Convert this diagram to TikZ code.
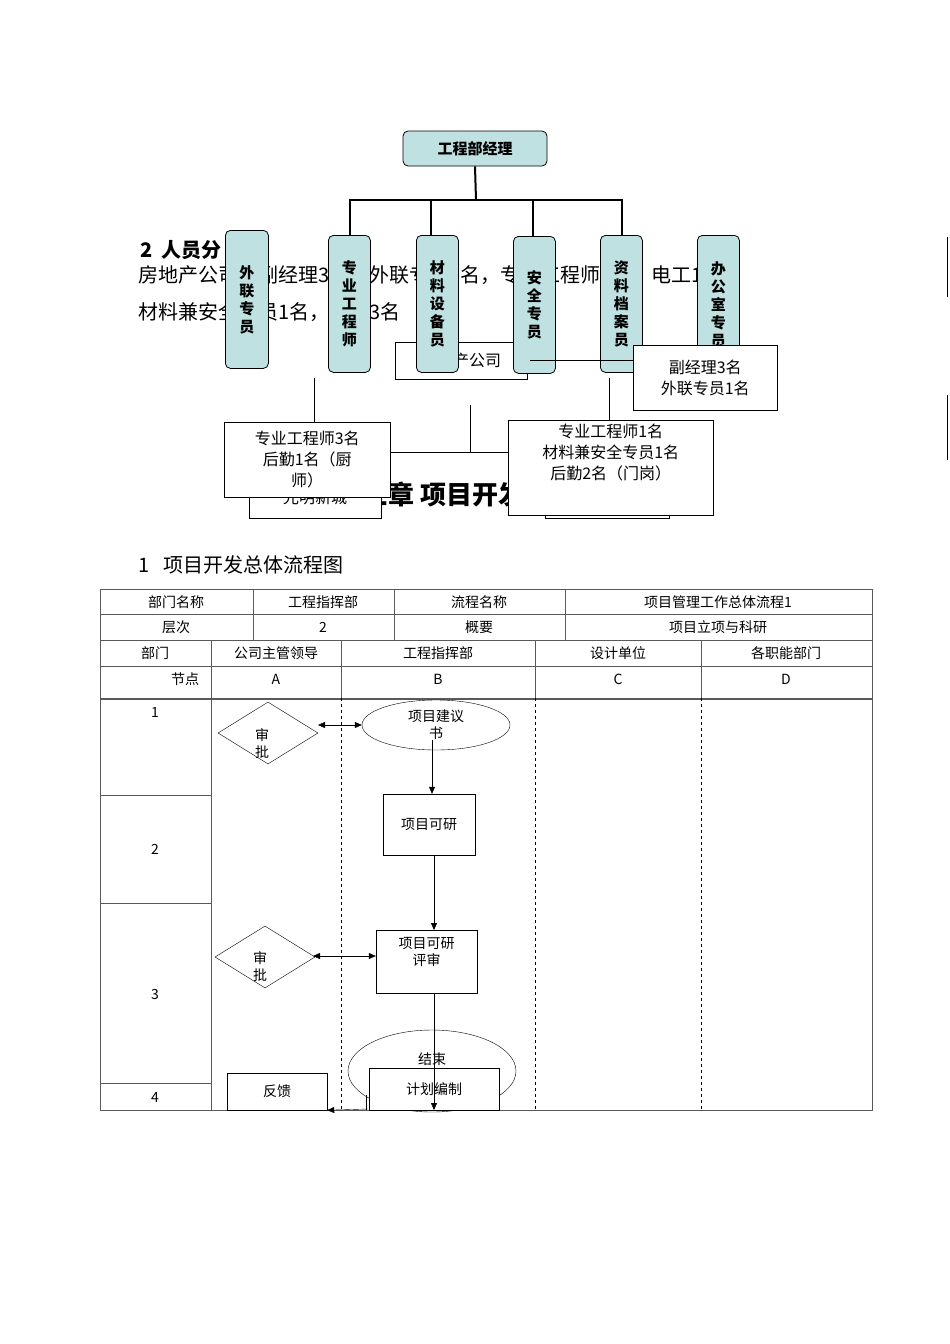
\documentclass[tikz,border=0pt]{standalone}
\usepackage{fontspec}
\setmainfont{Noto Sans CJK SC}
\usetikzlibrary{shapes.geometric,arrows.meta}
\definecolor{cy}{HTML}{BFE1E1}
\begin{document}
\begin{tikzpicture}[x=1pt,y=-1pt,
 vb/.style={draw,rounded corners=5pt,fill=cy,thick,inner sep=0pt,font=\bfseries\fontsize{15}{18}\selectfont,align=center},
 wb/.style={draw,fill=white,inner sep=0pt,align=center,font=\fontsize{16}{21}\selectfont},
 tb/.style={font=\fontsize{14}{16}\selectfont},
 fn/.style={draw,fill=white,inner sep=0pt,align=center,font=\fontsize{14}{17}\selectfont},
 ar/.style={-{Triangle[length=7pt,width=6pt]}},
 dar/.style={{Triangle[length=7pt,width=6pt]}-{Triangle[length=7pt,width=6pt]}}]
\useasboundingbox[fill=white] (0,0) rectangle (950,1344);
% background text
\node[anchor=west,font=\bfseries\fontsize{20}{24}\selectfont] (h2) at (137,250) {2\ \ 人员分};
\node[anchor=west,font=\fontsize{20}{24}\selectfont] (p1) at (135,275) {房地产公司有副经理3名，外联专员1名，专业工程师4名，电工1名，};
\node[anchor=west,font=\fontsize{20}{24}\selectfont] (p2) at (135,312) {材料兼安全专员1名，后勤3名};
\draw[thick] (947,237) -- (947,297) (947,395) -- (947,460);
% org chart
\node[vb,minimum width=144pt,minimum height=35pt] (gm) at (475,148.5) {工程部经理};
\draw[line width=2pt] (gm.south) -- (476,200);
\draw[line width=2.5pt] (349,200) -- (623,200);
\foreach \x in {350,431,533,622}{\draw[line width=2pt] (\x,200) -- (\x,237);}
\node[wb,minimum width=132pt,minimum height=37pt,anchor=north west] (fd) at (395,342) {房地产公司};
\node[anchor=west,font=\bfseries\fontsize{26}{30}\selectfont] (ch) at (333,495) {第三章 项目开发流程};
\node[wb,minimum width=132pt,minimum height=63pt,anchor=north west] (gm2) at (249,455) {\\[14pt]光明新城};
\node[wb,minimum width=124pt,minimum height=38pt,anchor=north west] (b2) at (545,480) {};
\node[vb,minimum width=43pt,minimum height=138pt,anchor=north west] (v1) at (225,230) {外\\联\\专\\员};
\node[vb,minimum width=42pt,minimum height=137pt,anchor=north west] (v2) at (328,235) {专\\业\\工\\程\\师};
\node[vb,minimum width=42pt,minimum height=137pt,anchor=north west] (v3) at (416,235) {材\\料\\设\\备\\员};
\node[vb,minimum width=42pt,minimum height=137pt,anchor=north west] (v4) at (513,236) {安\\全\\专\\员};
\node[vb,minimum width=42pt,minimum height=137pt,anchor=north west] (v5) at (600,235) {资\\料\\档\\案\\员};
\node[vb,minimum width=42pt,minimum height=137pt,anchor=north west,text depth=0pt] (v6) at (697,235) {办\\公\\室\\专\\员};
\node[wb,minimum width=144pt,minimum height=65pt,anchor=north west] (fj) at (633,345) {副经理3名\\外联专员1名};
\draw (530,360) -- (fj.west|-530,360);
\coordinate (c1) at (314,378); \coordinate (c2) at (470,405); \coordinate (c3) at (609,378);
\draw (c1) -- (314,422) (c2) -- (470,453) (c3) -- (609,420) (380,452) -- (510,452);
\node[wb,minimum width=166pt,minimum height=75pt,anchor=north west] (z1) at (224,422) {专业工程师3名\\后勤1名（厨\\师）};
\node[wb,minimum width=205pt,minimum height=95pt,anchor=north west] (z2) at (508,420) {专业工程师1名\\材料兼安全专员1名\\后勤2名（门岗）\\[10pt]};
\node[anchor=west,font=\fontsize{20}{24}\selectfont] (t1) at (135,565) {1\ \ \ 项目开发总体流程图};
% table
\draw[gray!70!black] (100,589) rectangle (872,1110);
\foreach \y in {614,640,666,698}{\draw[gray!70!black] (100,\y) -- (872,\y);}
\draw[gray!70!black] (100,699.5) -- (872,699.5);
\foreach \x in {253,394,565}{\draw[gray!70!black] (\x,589) -- (\x,640);}
\foreach \x in {211,341,535,701}{\draw[gray!70!black] (\x,640) -- (\x,698);}
\draw[gray!70!black] (211,698) -- (211,1110);
\foreach \y in {795,903,1083}{\draw[gray!70!black] (100,\y) -- (211,\y);}
\foreach \x in {341,535,701}{\draw[dashed] (\x,698) -- (\x,1110);}
\node[tb] (r1a) at (176,602) {部门名称}; \node[tb] (r1b) at (323,602) {工程指挥部};
\node[tb] (r1c) at (479,602) {流程名称}; \node[tb] (r1d) at (718,602) {项目管理工作总体流程1};
\node[tb] (r2a) at (176,627) {层次}; \node[tb] (r2b) at (323,627) {2};
\node[tb] (r2c) at (479,627) {概要}; \node[tb] (r2d) at (718,627) {项目立项与科研};
\node[tb] (r3a) at (155,653) {部门}; \node[tb] (r3b) at (276,653) {公司主管领导};
\node[tb] (r3c) at (438,653) {工程指挥部}; \node[tb] (r3d) at (618,653) {设计单位};
\node[tb] (r3e) at (786,653) {各职能部门};
\node[tb] (r4a) at (185,679) {节点}; \node[tb] (r4b) at (276,679) {A};
\node[tb] (r4c) at (438,679) {B}; \node[tb] (r4d) at (618,679) {C}; \node[tb] (r4e) at (786,679) {D};
\node[tb] (n1) at (155,712) {1}; \node[tb] (n2) at (155,849) {2};
\node[tb] (n3) at (155,994) {3}; \node[tb] (n4) at (155,1097) {4};
% flow
\node[draw,diamond,aspect=1.6,minimum width=100pt,minimum height=62pt,inner sep=0pt] (d1) at (268,733) {};
\node[fn,draw=none,fill=none] (d1t) at (262,744) {审\\批};
\node[draw,ellipse,minimum width=148pt,minimum height=50pt,inner sep=0pt,align=center,font=\fontsize{14}{17}\selectfont] (e1) at (436,725) {项目建议\\书};
\draw[dar] (318,725) -- (e1.west);
\node[fn,minimum width=92pt,minimum height=61pt] (r1) at (429,824.5) {项目可研};
\draw[ar] (432,740) -- (r1.north-|432,0);
\node[fn,minimum width=101pt,minimum height=63pt,text depth=20pt] (r2) at (426.5,961.5) {项目可研\\评审};
\draw[ar] (434,855) -- (434,930);
\node[draw,diamond,aspect=1.6,minimum width=100pt,minimum height=62pt,inner sep=0pt] (d2) at (265,957) {};
\node[fn,draw=none,fill=none] (d2t) at (260,967) {审\\批};
\draw[dar] (313,956) -- (r2.west|-0,956);
\node[draw,ellipse,minimum width=168pt,minimum height=82pt,inner sep=0pt,font=\fontsize{14}{17}\selectfont,text depth=25pt] (e2) at (432,1071) {结束};
\draw (366,1095) -- (366,1110);
\node[fn,minimum width=130pt,minimum height=42pt] (r3) at (434,1089) {计划编制};
\node[fn,minimum width=100pt,minimum height=37pt] (fk) at (277,1091.5) {反馈};
\draw[ar] (434,993) -- (434,1110);
\draw[ar] (368,1109) -- (fk.south east);
\end{tikzpicture}
\end{document}
